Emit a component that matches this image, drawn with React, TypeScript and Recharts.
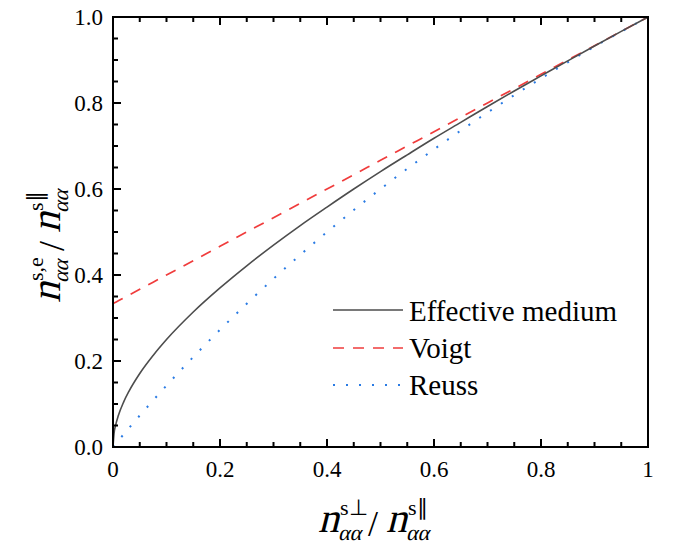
import React from 'react';
import { LineChart, Line, XAxis, YAxis, Customized } from 'recharts';

// ratio n_perp / n_par
const ratio = [0, 0.002, 0.005, 0.01, 0.02, 0.03, 0.05, 0.075, 0.1, 0.15, 0.2, 0.25, 0.3, 0.35, 0.4, 0.45, 0.5, 0.55, 0.6, 0.65, 0.7, 0.75, 0.8, 0.85, 0.9, 0.95, 1];
const effective = [0, 0.032, 0.051, 0.073, 0.105, 0.13, 0.171, 0.213, 0.25, 0.314, 0.37, 0.4215, 0.4695, 0.515, 0.558, 0.6, 0.6405, 0.6795, 0.718, 0.755, 0.792, 0.828, 0.863, 0.898, 0.9325, 0.9665, 1];
const voigt = [0.3333, 0.3347, 0.3367, 0.34, 0.3467, 0.3533, 0.3667, 0.3833, 0.4, 0.4333, 0.4667, 0.5, 0.5333, 0.5667, 0.6, 0.6333, 0.6667, 0.7, 0.7333, 0.7667, 0.8, 0.8333, 0.8667, 0.9, 0.9333, 0.9667, 1];
const reuss = [0, 0.003, 0.0075, 0.0149, 0.0297, 0.0443, 0.0732, 0.1084, 0.1429, 0.2093, 0.2727, 0.3333, 0.3913, 0.4468, 0.5, 0.551, 0.6, 0.6471, 0.6923, 0.7358, 0.7778, 0.8182, 0.8571, 0.8947, 0.931, 0.9661, 1];

const ticks = [0, 0.05, 0.1, 0.15, 0.2, 0.25, 0.3, 0.35, 0.4, 0.45, 0.5, 0.55, 0.6, 0.65, 0.7, 0.75, 0.8, 0.85, 0.9, 0.95, 1];
const xTickLabels = ['0', '0.2', '0.4', '0.6', '0.8', '1'];
const yTickLabels = ['0.0', '0.2', '0.4', '0.6', '0.8', '1.0'];

const data = ratio.map((r, i) => ({ r, em: effective[i], voigt: voigt[i], reuss: reuss[i] }));

const serif = { fontFamily: "'Liberation Serif', 'Times New Roman', serif" };
const C_EM = '#4d4d4d';
const C_VOIGT = '#f03c3c';
const C_REUSS = '#2a7be4';
const DASH_VOIGT = '11 9';
const DASH_REUSS = '2 11';

const makeTick = (side: 'bottom' | 'top' | 'left' | 'right') => (props: any) => {
  const { x, y, payload } = props;
  const v = payload.value;
  const k = Math.round(v * 5);
  const major = Math.abs(v * 5 - k) < 1e-6;
  const len = major ? 8 : 5;
  let line;
  if (side === 'bottom') line = <line x1={x} y1={y} x2={x} y2={y - len} />;
  else if (side === 'top') line = <line x1={x} y1={y} x2={x} y2={y + len} />;
  else if (side === 'left') line = <line x1={x} y1={y} x2={x + len} y2={y} />;
  else line = <line x1={x} y1={y} x2={x - len} y2={y} />;
  return (
    <g>
      <g stroke="#000" strokeWidth={2}>{line}</g>
      <g style={serif} fontSize={23} fill="#000">
        {major && side === 'bottom' && (
          <text x={x} y={y + 30} textAnchor="middle">{xTickLabels[k]}</text>
        )}
        {major && side === 'left' && (
          <text x={x - 10} y={y + 8} textAnchor="end">{yTickLabels[k]}</text>
        )}
      </g>
    </g>
  );
};

// slanted regular glyphs stand in for math italics
const Ital = ({ x, y, size, children }: { x: number; y: number; size: number; children: string }) => (
  <g transform={`translate(${x},${y}) skewX(-14)`}>
    <text x={0} y={0} fontSize={size}>{children}</text>
  </g>
);

const Term = ({ x, sup }: { x: number; sup: string }) => (
  <g>
    <Ital x={x} y={0} size={42}>n</Ital>
    <text x={x + 22} y={-17} fontSize={22}>{sup}</text>
    <Ital x={x + 20} y={8} size={22}>αα</Ital>
  </g>
);

const Decor = () => (
  <g fill="#000" style={serif}>
    <g transform="translate(318, 532)">
      <Term x={0} sup={'s\u22A5'} />
      <text x={50} y={4} fontSize={36}>/</text>
      <Term x={68} sup={'s\u2225'} />
    </g>
    <g transform="translate(60, 303) rotate(-90)">
      <Term x={0} sup="s,e" />
      <text x={52} y={4} fontSize={36}>/</text>
      <Term x={70} sup={'s\u2225'} />
    </g>
    <g fontSize={29}>
      <line x1={333} y1={310} x2={403} y2={310} stroke={C_EM} strokeWidth={1.6} />
      <line x1={333} y1={348} x2={403} y2={348} stroke={C_VOIGT} strokeWidth={1.7} strokeDasharray={DASH_VOIGT} />
      <line x1={333} y1={385} x2={403} y2={385} stroke={C_REUSS} strokeWidth={2} strokeDasharray={DASH_REUSS} />
      <text x={409} y={321}>Effective medium</text>
      <text x={409} y={358}>Voigt</text>
      <text x={409} y={395}>Reuss</text>
    </g>
  </g>
);

const axisLine = { stroke: '#000', strokeWidth: 2, strokeLinecap: 'square' as const };

export default function App() {
  return (
    <div style={{ position: 'absolute', left: 0, top: 0, width: 684, height: 544 }}>
      <LineChart width={684} height={544} data={data} margin={{ top: 16, right: 35, left: 112, bottom: 96 }}>
        <XAxis xAxisId="b" dataKey="r" type="number" domain={[0, 1]} ticks={ticks} interval={0}
          height={1} tickSize={0} tickMargin={0} tickLine={false} axisLine={axisLine} tick={makeTick('bottom')} />
        <XAxis xAxisId="t" orientation="top" dataKey="r" type="number" domain={[0, 1]} ticks={ticks} interval={0}
          height={1} tickSize={0} tickMargin={0} tickLine={false} axisLine={axisLine} tick={makeTick('top')} />
        <YAxis yAxisId="l" type="number" domain={[0, 1]} ticks={ticks} interval={0}
          width={1} tickSize={0} tickMargin={0} tickLine={false} axisLine={axisLine} tick={makeTick('left')} />
        <YAxis yAxisId="r" orientation="right" type="number" domain={[0, 1]} ticks={ticks} interval={0}
          width={1} tickSize={0} tickMargin={0} tickLine={false} axisLine={axisLine} tick={makeTick('right')} />
        <Line xAxisId="b" yAxisId="l" type="monotone" dataKey="voigt" stroke={C_VOIGT} strokeWidth={1.7}
          strokeDasharray={DASH_VOIGT} dot={false} isAnimationActive={false} />
        <Line xAxisId="b" yAxisId="l" type="monotone" dataKey="reuss" stroke={C_REUSS} strokeWidth={2}
          strokeDasharray={DASH_REUSS} dot={false} isAnimationActive={false} />
        <Line xAxisId="b" yAxisId="l" type="monotone" dataKey="em" stroke={C_EM} strokeWidth={1.6}
          dot={false} isAnimationActive={false} />
        <Customized component={Decor} />
      </LineChart>
    </div>
  );
}
